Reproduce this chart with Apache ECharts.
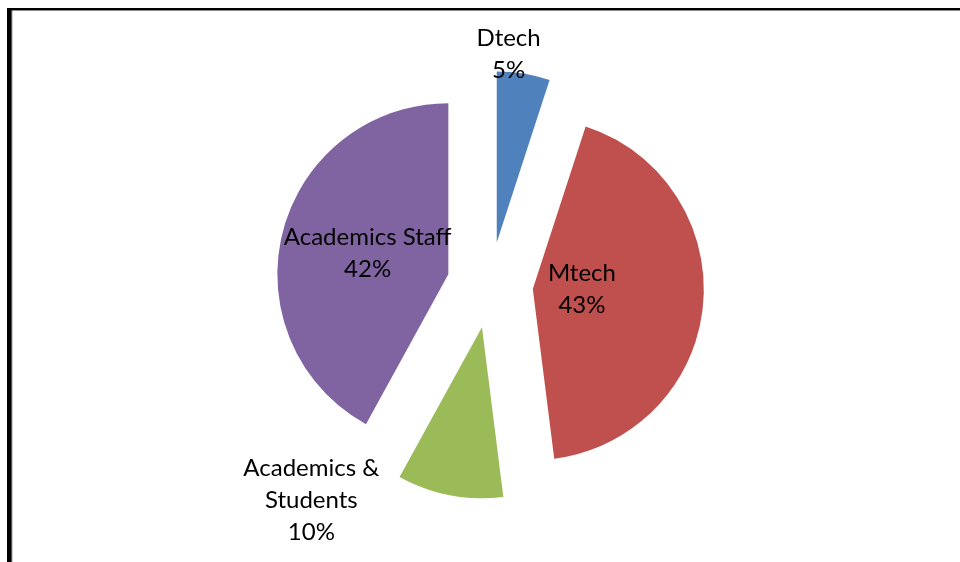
<!DOCTYPE html>
<html>
<head>
<meta charset="utf-8">
<script src="https://cdn.jsdelivr.net/npm/echarts@6/dist/echarts.min.js"></script>
<style>
html,body{margin:0;padding:0;background:#fff;}
#chart{width:960px;height:562px;}
</style>
</head>
<body>
<div id="chart"></div>
<script>
const categories = ['Dtech', 'Mtech', 'Academics & Students', 'Academics Staff'];
const values = [5, 43, 10, 42];
const colors = ['#4F81BD', '#C0504D', '#9BBB59', '#8064A2'];

// label nudges (style only) relative to the library's inside-label position
const labelShift = [[-2, -101], [-39, -8], [-154, 86], [5, 1]];

const chart = echarts.init(document.getElementById('chart'), null, {renderer: 'canvas'});
chart.setOption({
  animation: false,
  backgroundColor: '#ffffff',
  graphic: [
    {type: 'rect', shape: {x: 7, y: 8, width: 4, height: 560}, style: {fill: '#000'}},
    {type: 'rect', shape: {x: 11, y: 8, width: 1.3, height: 560}, style: {fill: '#555'}},
    {type: 'rect', shape: {x: 7, y: 8, width: 960, height: 2.2}, style: {fill: '#000'}},
    {type: 'rect', shape: {x: 11, y: 10.2, width: 960, height: 0.6}, style: {fill: '#555'}}
  ],
  series: [{
    type: 'pie',
    center: [490, 285],
    radius: [0, 171],
    startAngle: 90,
    clockwise: true,
    selectedMode: 'multiple',
    selectedOffset: 43,
    percentPrecision: 0,
    avoidLabelOverlap: false,
    emphasis: {disabled: true, scale: false},
    select: {itemStyle: {}},
    itemStyle: {borderWidth: 0},
    label: {
      show: true,
      position: 'inside',
      fontFamily: 'Lato',
      fontSize: 24,
      lineHeight: 32,
      color: '#000',
      align: 'center',
      formatter: function (p) { return p.name.replace('& ', '&\n') + '\n' + p.percent + '%'; }
    },
    labelLine: {show: false},
    labelLayout: function (p) {
      const s = labelShift[p.dataIndex];
      return {dx: s[0], dy: s[1]};
    },
    data: categories.map(function (c, i) {
      return {name: c, value: values[i], selected: true, itemStyle: {color: colors[i]}};
    })
  }]
});
</script>
</body>
</html>
